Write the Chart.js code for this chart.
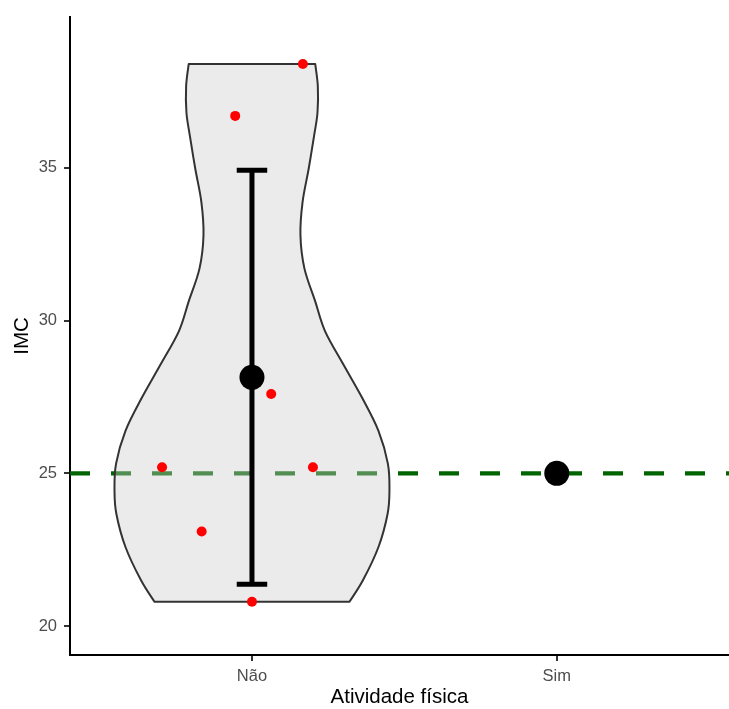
<!DOCTYPE html>
<html>
<head>
<meta charset="utf-8">
<script src="https://cdn.jsdelivr.net/npm/chart.js@4/dist/chart.umd.min.js"></script>
<style>
  html, body { margin: 0; padding: 0; background: #fff; }
  #chart { display: block; }
</style>
</head>
<body>
<canvas id="chart" width="729" height="709"></canvas>
<script>
// groups on the x axis
const categories = ["Não", "Sim"];

// raw IMC values per group, with the jittered x position they were drawn at
const naoValues = [38.4, 36.7, 27.6, 25.2, 25.2, 23.1, 20.8];
const naoJitter = [1.167, 0.945, 1.063, 1.2, 0.705, 0.835, 1.0];
const simValues = [25.0];
const simJitter = [2.0];

// violin outline for "Não" (density half-width, top to bottom)
const violinY = [38.4, 37.68, 36.81, 36.06, 34.97, 33.88, 32.8, 31.71, 30.63, 29.65, 28.56, 27.48, 26.39, 25.31, 24.44, 23.68, 22.59, 21.5, 20.8];
const violinHalf = [0.2075, 0.216, 0.215, 0.204, 0.186, 0.166, 0.159, 0.172, 0.2075, 0.24, 0.3, 0.361, 0.415, 0.446, 0.451, 0.445, 0.415, 0.364, 0.32];

const refLine = 25;
const yTicks = [20, 25, 30, 35];

function mean(arr) { return arr.reduce((a, b) => a + b, 0) / arr.length; }
function sd(arr) {
  const m = mean(arr);
  return Math.sqrt(arr.reduce((a, b) => a + (b - m) ** 2, 0) / (arr.length - 1));
}

const groups = [naoValues, simValues];
const jitters = [naoJitter, simJitter];
const means = groups.map(mean);

const rawPoints = [];
groups.forEach((vals, g) => vals.forEach((v, i) => rawPoints.push({ x: jitters[g][i], y: v })));
const meanPoints = means.map((m, i) => ({ x: i + 1, y: m }));

function smoothPath(ctx, pts, move) {
  if (move) ctx.moveTo(pts[0][0], pts[0][1]); else ctx.lineTo(pts[0][0], pts[0][1]);
  for (let i = 0; i < pts.length - 1; i++) {
    const p0 = pts[Math.max(i - 1, 0)], p1 = pts[i], p2 = pts[i + 1], p3 = pts[Math.min(i + 2, pts.length - 1)];
    ctx.bezierCurveTo(
      p1[0] + (p2[0] - p0[0]) / 6, p1[1] + (p2[1] - p0[1]) / 6,
      p2[0] - (p3[0] - p1[0]) / 6, p2[1] - (p3[1] - p1[1]) / 6,
      p2[0], p2[1]
    );
  }
}

const underlay = {
  id: "underlay",
  beforeDatasetsDraw(chart) {
    const { ctx, chartArea: area, scales: { x, y } } = chart;
    ctx.save();
    ctx.beginPath();
    ctx.rect(area.left, area.top, area.right - area.left, area.bottom - area.top);
    ctx.clip();

    // reference line
    const ry = y.getPixelForValue(refLine);
    ctx.beginPath();
    ctx.setLineDash([20, 21]);
    ctx.strokeStyle = "#006400";
    ctx.lineWidth = 4.3;
    ctx.moveTo(area.left, ry);
    ctx.lineTo(area.right, ry);
    ctx.stroke();
    ctx.setLineDash([]);

    // violin
    const right = violinY.map((v, i) => [x.getPixelForValue(1 + violinHalf[i]), y.getPixelForValue(v)]);
    const left = violinY.map((v, i) => [x.getPixelForValue(1 - violinHalf[i]), y.getPixelForValue(v)]).reverse();
    ctx.beginPath();
    smoothPath(ctx, right, true);
    smoothPath(ctx, left, false);
    ctx.closePath();
    ctx.fillStyle = "rgba(204,204,204,0.4)";
    ctx.fill();
    ctx.strokeStyle = "#333333";
    ctx.lineWidth = 2;
    ctx.lineJoin = "round";
    ctx.stroke();

    // mean +/- sd error bars (only groups with more than one value)
    ctx.strokeStyle = "#000";
    ctx.lineWidth = 5;
    ctx.lineCap = "butt";
    groups.forEach((vals, g) => {
      if (vals.length < 2) return;
      const s = sd(vals);
      const cx = x.getPixelForValue(g + 1);
      const lo = y.getPixelForValue(means[g] - s);
      const hi = y.getPixelForValue(means[g] + s);
      const c0 = x.getPixelForValue(g + 1 - 0.05);
      const c1 = x.getPixelForValue(g + 1 + 0.05);
      ctx.beginPath();
      ctx.moveTo(cx, lo); ctx.lineTo(cx, hi);
      ctx.moveTo(c0, lo); ctx.lineTo(c1, lo);
      ctx.moveTo(c0, hi); ctx.lineTo(c1, hi);
      ctx.stroke();
    });
    ctx.restore();
  }
};

const tickFont = { family: "'Liberation Sans', Arial, sans-serif", size: 16.5 };
const titleFont = { family: "'Liberation Sans', Arial, sans-serif", size: 20.5, lineHeight: 1.0 };

new Chart(document.getElementById("chart"), {
  type: "scatter",
  data: {
    datasets: [
      { label: "Média", data: meanPoints, backgroundColor: "#000", borderWidth: 0, pointRadius: 12.5, order: 0 },
      { label: "IMC", data: rawPoints, backgroundColor: "#FF0000", borderWidth: 0, pointRadius: 5, order: 1 }
    ]
  },
  options: {
    responsive: false,
    animation: false,
    layout: { autoPadding: false, padding: { top: 14, right: 0, bottom: 0, left: 0 } },
    plugins: { legend: { display: false }, tooltip: { enabled: false } },
    scales: {
      x: {
        type: "linear",
        min: 0.403,
        max: 2.565,
        afterBuildTicks: (s) => { s.ticks = categories.map((c, i) => ({ value: i + 1 })); },
        afterFit: (s) => { s.height = 54; },
        ticks: { callback: (v, i) => categories[i], font: tickFont, color: "#4D4D4D", padding: 6, maxRotation: 0 },
        grid: { display: true, drawOnChartArea: false, drawTicks: true, tickLength: 6, color: "#333333", lineWidth: 2 },
        border: { display: true, color: "#000", width: 2 },
        title: { display: true, text: "Atividade física", font: titleFont, color: "#000", padding: { top: 0, bottom: 1 } }
      },
      y: {
        min: 19.055,
        max: 39.94,
        afterBuildTicks: (s) => { s.ticks = yTicks.map((v) => ({ value: v })); },
        afterFit: (s) => { s.width = 70; },
        ticks: { font: tickFont, color: "#4D4D4D", padding: 7 },
        grid: { display: true, drawOnChartArea: false, drawTicks: true, tickLength: 6, color: "#333333", lineWidth: 2 },
        border: { display: true, color: "#000", width: 2 },
        title: { display: true, text: "IMC", font: titleFont, color: "#000", padding: { top: 12, bottom: 0 } }
      }
    }
  },
  plugins: [underlay]
});
</script>
</body>
</html>
